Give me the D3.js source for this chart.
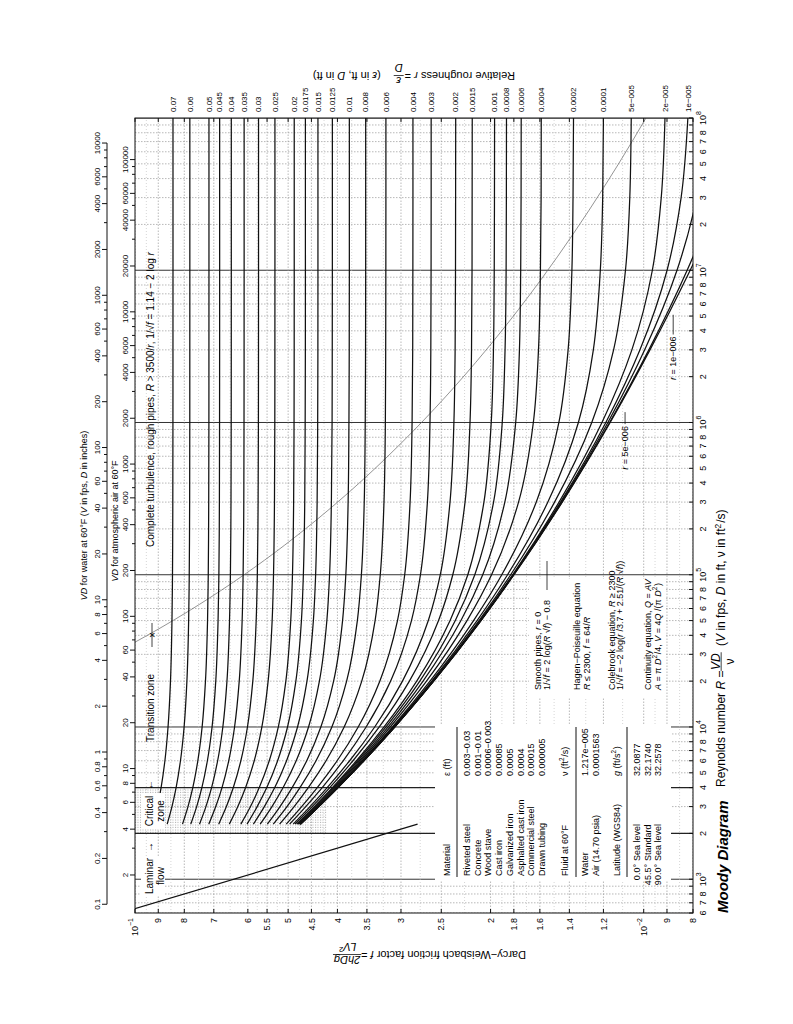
<!DOCTYPE html>
<html>
<head>
<meta charset="utf-8">
<title>Moody Diagram</title>
<script src="https://cdn.jsdelivr.net/npm/d3@7"></script>
<style>
  body { margin: 0; background: #fff; }
  svg { display: block; font-family: "Liberation Sans", Arial, Helvetica, sans-serif; }
</style>
</head>
<body>
<svg id="moody" width="793" height="1024"></svg>
<script>
const reynolds = [2300, 3000, 4000, 6000, 1e4, 2e4, 5e4, 1e5, 3e5, 1e6, 3e6, 1e7, 3e7, 1e8];

// relative roughness of each curve, 0 = smooth pipe
const roughness = [0.07, 0.06, 0.05, 0.045, 0.04, 0.035, 0.03, 0.025, 0.02, 0.0175, 0.015, 0.0125,
  0.01, 0.008, 0.006, 0.004, 0.003, 0.002, 0.0015, 0.001, 0.0008, 0.0006, 0.0004, 0.0002, 0.0001,
  5e-5, 2e-5, 1e-5, 5e-6, 1e-6, 0];
const roughnessLabels = ["0.07", "0.06", "0.05", "0.045", "0.04", "0.035", "0.03", "0.025", "0.02",
  "0.0175", "0.015", "0.0125", "0.01", "0.008", "0.006", "0.004", "0.003", "0.002", "0.0015", "0.001",
  "0.0008", "0.0006", "0.0004", "0.0002", "0.0001", "5e\u2212005", "2e\u2212005", "1e\u2212005", "", "", ""];

// friction factor, one row per roughness, one column per reynolds value
const friction = [
  [0.0921, 0.09034, 0.08886, 0.08734, 0.08611, 0.08516, 0.08459, 0.08439, 0.08427, 0.08422, 0.08421, 0.0842, 0.0842, 0.0842],
  [0.08645, 0.08459, 0.08302, 0.0814, 0.08007, 0.07906, 0.07844, 0.07823, 0.07809, 0.07804, 0.07803, 0.07802, 0.07802, 0.07802],
  [0.08065, 0.07867, 0.07698, 0.07525, 0.0738, 0.07269, 0.07201, 0.07178, 0.07163, 0.07157, 0.07156, 0.07155, 0.07155, 0.07155],
  [0.0777, 0.07564, 0.07388, 0.07206, 0.07055, 0.06938, 0.06866, 0.06841, 0.06825, 0.0682, 0.06818, 0.06817, 0.06817, 0.06817],
  [0.07468, 0.07254, 0.0707, 0.06879, 0.06719, 0.06595, 0.06519, 0.06493, 0.06476, 0.0647, 0.06468, 0.06467, 0.06467, 0.06467],
  [0.07159, 0.06938, 0.06744, 0.06542, 0.06372, 0.06239, 0.06157, 0.0613, 0.06111, 0.06105, 0.06103, 0.06102, 0.06102, 0.06102],
  [0.06846, 0.06612, 0.06408, 0.06193, 0.06011, 0.05867, 0.05778, 0.05748, 0.05728, 0.0572, 0.05718, 0.05717, 0.05717, 0.05717],
  [0.06525, 0.06278, 0.06061, 0.05829, 0.05631, 0.05474, 0.05375, 0.05342, 0.05319, 0.05311, 0.05309, 0.05308, 0.05308, 0.05308],
  [0.06193, 0.05928, 0.05698, 0.05446, 0.05227, 0.05052, 0.04941, 0.04903, 0.04877, 0.04868, 0.04865, 0.04864, 0.04864, 0.04864],
  [0.06022, 0.05752, 0.05507, 0.05244, 0.05014, 0.04828, 0.04708, 0.04667, 0.04638, 0.04629, 0.04625, 0.04624, 0.04624, 0.04624],
  [0.05852, 0.05568, 0.05312, 0.05036, 0.04792, 0.04591, 0.0446, 0.04415, 0.04385, 0.04374, 0.0437, 0.04369, 0.04369, 0.04369],
  [0.05674, 0.05379, 0.05114, 0.04821, 0.04559, 0.0434, 0.04196, 0.04145, 0.04111, 0.04098, 0.04095, 0.04093, 0.04093, 0.04093],
  [0.05493, 0.05187, 0.0491, 0.04596, 0.04312, 0.0407, 0.03908, 0.03851, 0.03811, 0.03797, 0.03792, 0.0379, 0.0379, 0.0379],
  [0.05348, 0.05026, 0.04739, 0.04407, 0.04102, 0.03837, 0.03655, 0.03589, 0.03543, 0.03527, 0.03522, 0.0352, 0.0352, 0.0352],
  [0.05197, 0.04866, 0.04564, 0.04211, 0.0388, 0.03583, 0.03373, 0.03295, 0.0324, 0.0322, 0.03215, 0.03213, 0.03212, 0.03212],
  [0.05043, 0.04703, 0.04382, 0.04005, 0.03641, 0.03302, 0.03048, 0.0295, 0.02879, 0.02853, 0.02845, 0.02843, 0.02842, 0.02842],
  [0.04966, 0.04617, 0.04285, 0.03897, 0.03513, 0.03145, 0.02861, 0.02747, 0.02662, 0.02631, 0.02621, 0.02618, 0.02617, 0.02617],
  [0.04887, 0.04529, 0.0419, 0.03785, 0.03379, 0.0298, 0.02651, 0.02511, 0.02403, 0.02361, 0.02348, 0.02344, 0.02343, 0.02342],
  [0.04848, 0.04484, 0.04141, 0.03728, 0.0331, 0.02888, 0.02531, 0.02373, 0.02245, 0.02195, 0.0218, 0.02175, 0.02174, 0.02173],
  [0.04812, 0.04442, 0.04093, 0.0367, 0.03239, 0.02794, 0.02402, 0.02217, 0.02061, 0.01994, 0.01974, 0.01967, 0.01965, 0.01964],
  [0.04793, 0.04425, 0.04072, 0.03647, 0.0321, 0.02755, 0.02346, 0.02148, 0.01973, 0.01897, 0.01873, 0.01864, 0.01862, 0.01861],
  [0.04778, 0.04404, 0.04052, 0.03621, 0.03179, 0.02715, 0.02287, 0.02072, 0.01875, 0.01785, 0.01755, 0.01745, 0.01742, 0.01741],
  [0.04759, 0.04387, 0.04031, 0.03598, 0.0315, 0.02673, 0.02225, 0.01991, 0.01762, 0.01648, 0.0161, 0.01596, 0.01591, 0.0159],
  [0.04744, 0.04369, 0.0401, 0.03575, 0.03119, 0.02631, 0.0216, 0.01901, 0.01626, 0.01468, 0.01408, 0.01384, 0.01377, 0.01374],
  [0.04734, 0.04362, 0.04001, 0.03563, 0.03105, 0.0261, 0.02126, 0.01852, 0.01543, 0.01344, 0.01256, 0.01217, 0.01204, 0.012],
  [0.04732, 0.04356, 0.03995, 0.03556, 0.03096, 0.02599, 0.02107, 0.01826, 0.01497, 0.01265, 0.01146, 0.01086, 0.01065, 0.01058],
  [0.0473, 0.04353, 0.03993, 0.03553, 0.03091, 0.02593, 0.02096, 0.0181, 0.01467, 0.01208, 0.01055, 0.009616, 0.009237, 0.009082],
  [0.04729, 0.04352, 0.03992, 0.03551, 0.03089, 0.02591, 0.02093, 0.01805, 0.01457, 0.01187, 0.01017, 0.008996, 0.008442, 0.008188],
  [0.04728, 0.04352, 0.03991, 0.0355, 0.03088, 0.0259, 0.02091, 0.01802, 0.01452, 0.01176, 0.009955, 0.008601, 0.007865, 0.00747],
  [0.04728, 0.04352, 0.03991, 0.0355, 0.03088, 0.02588, 0.02089, 0.018, 0.01447, 0.01167, 0.00977, 0.008215, 0.007184, 0.00644],
  [0.04728, 0.04352, 0.03991, 0.0355, 0.03088, 0.02588, 0.02089, 0.01799, 0.01446, 0.01164, 0.009721, 0.008103, 0.006948, 0.00594]
];

// laminar flow line f = 64/R
const laminarRe = [600, 2300];
const laminarF = [0.1067, 0.02783];

// start of complete turbulence, R = 3500/r
const boundaryRe = [36060, 41180, 50000, 58330, 70000, 87500, 1.4e5, 1.75e5, 2.333e5, 2.8e5, 3.5e5,
  5.833e5, 8.75e5, 1.75e6, 3.5e6, 8.75e6, 1.75e7, 3.5e7, 7e7, 1e8];
const boundaryF = [0.1, 0.09309, 0.0842, 0.07802, 0.07155, 0.06467, 0.05308, 0.04864, 0.04369, 0.04093, 0.0379,
  0.03212, 0.02842, 0.02342, 0.01964, 0.01589, 0.01373, 0.01198, 0.01054, 0.0099];

// friction factor axis
const fTicks = [0.1, 0.09, 0.08, 0.07, 0.06, 0.055, 0.05, 0.045, 0.04, 0.035, 0.03, 0.025, 0.02,
  0.018, 0.016, 0.014, 0.012, 0.01, 0.009, 0.008];
const fTickLabels = ["10|\u22121", "9", "8", "7", "6", "5.5", "5", "4.5", "4", "3.5", "3", "2.5", "2",
  "1.8", "1.6", "1.4", "1.2", "10|\u22122", "9", "8"];
const fMinorGrid = [0.095, 0.085, 0.075, 0.065, 0.0575, 0.0525, 0.0475, 0.0425, 0.0375, 0.0325, 0.0275,
  0.0225, 0.019, 0.017, 0.015, 0.013, 0.011, 0.0095, 0.0085];

// VD scales on top of the chart
const waterVD = [0.1, 0.2, 0.4, 0.6, 0.8, 1, 2, 4, 6, 8, 10, 20, 40, 60, 100, 200, 400, 600, 1000, 2000, 4000, 6000, 10000];
const airVD = [2, 4, 6, 8, 10, 20, 40, 60, 100, 200, 400, 600, 1000, 2000, 4000, 6000, 10000, 20000, 40000, 60000, 100000];
const nuWater = 1.217e-5, nuAir = 1.563e-4;   // ft^2/s, D in inches

// table
const materials = ["Riveted steel", "Concrete", "Wood stave", "Cast iron", "Galvanized iron",
  "Asphalted cast iron", "Commercial steel", "Drawn tubing"];
const materialEps = ["0.003\u22120.03", "0.001\u22120.01", "0.0006\u22120.003", "0.00085", "0.0005",
  "0.0004", "0.00015", "0.000005"];
const fluids = ["Water", "Air (14.70 psia)"];
const fluidNu = ["1.217e\u2212005", "0.0001563"];
const latitudes = ["0.0\u00b0", "45.5\u00b0", "90.0\u00b0"];
const latitudeSite = ["Sea level", "Standard", "Sea level"];
const gravity = ["32.0877", "32.1740", "32.2578"];

// inline curve labels
const inlineText = ["5e\u2212006", "1e\u2212006"];
const inlineRe = [4.9e5, 1.9e6];
const inlineF = [0.01088, 0.00875];
const inlineLeaderRe = [1.17e6, 5.1e6];

// ---------------------------------------------------------------
const W = 795, H = 558;
const svg = d3.select('#moody');

// chart drawn landscape, then turned onto the portrait page
const g = svg.append('g').attr('transform', 'translate(135,913) rotate(-90)');

const x = d3.scaleLog().domain([600, 1e8]).range([0, W]);
const y = d3.scaleLog().domain([0.1, 0.008]).range([0, H]);

const defs = svg.append('defs');
defs.append('clipPath').attr('id', 'plotclip')
  .append('rect').attr('width', W).attr('height', H);
const pat = defs.append('pattern').attr('id', 'stipple')
  .attr('patternUnits', 'userSpaceOnUse').attr('width', 2.5).attr('height', 2.5);
pat.append('rect').attr('width', 1).attr('height', 1).attr('fill', '#999');

const plot = g.append('g').attr('clip-path', 'url(#plotclip)');

const isDecade = d => Math.abs(Math.log10(d) - Math.round(Math.log10(d))) < 1e-6;

// critical zone
plot.append('rect')
  .attr('x', x(2000)).attr('width', x(4000) - x(2000))
  .attr('y', 0).attr('height', y(0.042))
  .attr('fill', 'url(#stipple)').attr('opacity', 0.8);

// grid
plot.append('g').selectAll('line').data(x.ticks()).join('line')
  .attr('x1', d => x(d)).attr('x2', d => x(d)).attr('y1', 0).attr('y2', H)
  .attr('stroke', d => isDecade(d) ? '#333' : '#999')
  .attr('stroke-width', d => isDecade(d) ? 1 : 0.7)
  .attr('stroke-dasharray', d => isDecade(d) ? null : '1.5,1.5');
plot.append('g').selectAll('line').data(fMinorGrid).join('line')
  .attr('x1', 0).attr('x2', W).attr('y1', d => y(d)).attr('y2', d => y(d))
  .attr('stroke', '#bbb').attr('stroke-width', 0.6).attr('stroke-dasharray', '1,2');
plot.append('g').selectAll('line').data(fTicks).join('line')
  .attr('x1', 0).attr('x2', W).attr('y1', d => y(d)).attr('y2', d => y(d))
  .attr('stroke', '#999').attr('stroke-width', 0.7).attr('stroke-dasharray', '1.5,1.5');
plot.append('g').selectAll('line').data([2000, 4000]).join('line')
  .attr('x1', d => x(d)).attr('x2', d => x(d)).attr('y1', 0).attr('y2', H)
  .attr('stroke', '#222').attr('stroke-width', 1.2);

// white boxes behind the notes
plot.append('rect').attr('x', 32).attr('y', 300).attr('width', 156).attr('height', 236).attr('fill', '#fff');
plot.append('rect').attr('x', 216).attr('y', 394).attr('width', 118).attr('height', 137).attr('fill', '#fff');

// boundary of complete turbulence
const line = d3.line().x(d => x(d[0])).y(d => y(d[1])).curve(d3.curveMonotoneX);
plot.append('path')
  .attr('d', line(boundaryRe.map((r, i) => [r, boundaryF[i]])))
  .attr('fill', 'none').attr('stroke', '#666').attr('stroke-width', 0.7);

// laminar line
plot.append('path')
  .attr('d', line(laminarRe.map((r, i) => [r, laminarF[i]])))
  .attr('fill', 'none').attr('stroke', '#111').attr('stroke-width', 1.2);

// Colebrook curves
plot.append('g').selectAll('path').data(friction).join('path')
  .attr('d', row => line(reynolds.map((r, j) => [r, row[j]])))
  .attr('fill', 'none').attr('stroke', '#111').attr('stroke-width', 1.25);

// frame
g.append('rect').attr('width', W).attr('height', H)
  .attr('fill', 'none').attr('stroke', '#111').attr('stroke-width', 1);

// Reynolds ticks (bottom of landscape chart)
const reTicks = x.ticks();
g.append('g').selectAll('line').data(reTicks).join('line')
  .attr('x1', d => x(d)).attr('x2', d => x(d)).attr('y1', H).attr('y2', H - 4)
  .attr('stroke', '#111');
const reLab = g.append('g').attr('font-size', 9).attr('text-anchor', 'middle');
reTicks.forEach(d => {
  const m = Math.round(d / Math.pow(10, Math.floor(Math.log10(d) + 1e-9)));
  if (m === 9) return;
  const t = reLab.append('text').attr('x', x(d)).attr('y', H + 13);
  if (isDecade(d)) {
    t.text('10').append('tspan').attr('dy', -5).attr('font-size', 7)
      .text(Math.round(Math.log10(d)));
  } else {
    t.text(m);
  }
});

// friction factor ticks (left of landscape chart)
g.append('g').selectAll('line').data(fTicks).join('line')
  .attr('x1', 0).attr('x2', 4).attr('y1', d => y(d)).attr('y2', d => y(d))
  .attr('stroke', '#111');
g.append('g').selectAll('line').data(fTicks).join('line')
  .attr('x1', W).attr('x2', W - 4).attr('y1', d => y(d)).attr('y2', d => y(d))
  .attr('stroke', '#111');
const fLab = g.append('g').attr('font-size', 9).attr('text-anchor', 'end');
fTicks.forEach((d, i) => {
  const parts = fTickLabels[i].split('|');
  const t = fLab.append('text').attr('x', -5).attr('y', y(d)).attr('dy', '0.35em');
  if (parts.length > 1) {
    t.text(parts[0]).append('tspan').attr('dy', -5).attr('font-size', 7).text(parts[1]);
  } else {
    t.text(parts[0]);
  }
});

// VD axes
const waterY = -28;
const waterMinor = d3.scaleLog().domain([0.1, 10000]).ticks();
g.append('line').attr('x1', x(0.1 / (12 * nuWater))).attr('x2', x(10000 / (12 * nuWater)))
  .attr('y1', waterY).attr('y2', waterY).attr('stroke', '#111');
g.append('g').selectAll('line').data(waterMinor).join('line')
  .attr('x1', d => x(d / (12 * nuWater))).attr('x2', d => x(d / (12 * nuWater)))
  .attr('y1', waterY).attr('y2', d => waterVD.includes(d) ? waterY - 5 : waterY - 3)
  .attr('stroke', '#111');
g.append('g').attr('font-size', 8).attr('text-anchor', 'middle')
  .selectAll('text').data(waterVD).join('text')
  .attr('x', d => x(d / (12 * nuWater))).attr('y', waterY - 7)
  .text(d => d);

const airMinor = d3.scaleLog().domain([2, 100000]).ticks().filter(d => d / (12 * nuAir) >= 600);
g.append('g').selectAll('line').data(airMinor).join('line')
  .attr('x1', d => x(d / (12 * nuAir))).attr('x2', d => x(d / (12 * nuAir)))
  .attr('y1', 0).attr('y2', d => airVD.includes(d) ? -5 : -3)
  .attr('stroke', '#111');
g.append('g').attr('font-size', 8).attr('text-anchor', 'middle')
  .selectAll('text').data(airVD).join('text')
  .attr('x', d => x(d / (12 * nuAir))).attr('y', -7)
  .text(d => d);

function rich(parent, xx, yy, parts, size) {
  const t = parent.append('text').attr('x', xx).attr('y', yy).attr('font-size', size);
  parts.forEach(p => {
    if (typeof p === 'string') t.append('tspan').text(p);
    else if (p.i) t.append('tspan').attr('font-style', 'italic').text(p.i);
    else if (p.sup) t.append('tspan').attr('dy', -4).attr('font-size', size * 0.7).text(p.sup)
      .clone().attr('dy', 4).attr('font-size', size).text('\u200a');
  });
  return t;
}

rich(g, 0, waterY - 20, [{i: 'VD'}, ' for water at 60\u00b0F (', {i: 'V'}, ' in fps, ', {i: 'D'}, ' in inches)'], 9)
  .attr('x', W / 2).attr('text-anchor', 'middle');
rich(g, 0, waterY + 11, [{i: 'VD'}, ' for atmospheric air at 60\u00b0F'], 9)
  .attr('x', 392).attr('text-anchor', 'middle');

// relative roughness labels (right of landscape chart)
g.append('g').attr('font-size', 8)
  .selectAll('text').data(friction.filter((row, i) => roughnessLabels[i])).join('text')
  .attr('x', W + 6).attr('y', row => y(row[row.length - 1])).attr('dy', '0.35em')
  .text((row, i) => roughnessLabels[i]);

// inline labels with leaders
inlineText.forEach((s, i) => {
  const t = rich(g, x(inlineRe[i]), y(inlineF[i]), [{i: 'r'}, ' = ' + s], 9).attr('dy', '0.35em');
  const len = t.node().getComputedTextLength();
  g.append('line').attr('x1', x(inlineRe[i]) + len + 2).attr('x2', x(inlineLeaderRe[i]))
    .attr('y1', y(inlineF[i])).attr('y2', y(inlineF[i])).attr('stroke', '#111').attr('stroke-width', 0.8);
});

// zone labels
const zl = g.append('g').attr('font-size', 10);
zl.append('rect').attr('x', 18).attr('y', 6).attr('width', 38).attr('height', 24).attr('fill', '#fff');
zl.append('rect').attr('x', 84).attr('y', 6).attr('width', 36).attr('height', 24).attr('fill', '#fff');
zl.append('text').attr('x', 37).attr('y', 18).attr('text-anchor', 'middle').text('Laminar');
zl.append('text').attr('x', 37).attr('y', 29).attr('text-anchor', 'middle').text('flow');
zl.append('text').attr('x', 102).attr('y', 18).attr('text-anchor', 'middle').text('Critical');
zl.append('text').attr('x', 102).attr('y', 29).attr('text-anchor', 'middle').text('zone');
zl.append('text').attr('x', 61).attr('y', 18).text('\u2192');
zl.append('text').attr('x', 123).attr('y', 18).text('\u2190');
zl.append('text').attr('x', 171).attr('y', 19).text('Transition zone');
g.append('line').attr('x1', 266).attr('x2', 290).attr('y1', 17).attr('y2', 17).attr('stroke', '#444');
g.append('text').attr('x', 278).attr('y', 20.5).attr('font-size', 10).attr('text-anchor', 'middle').text('\u00d7');
rich(g, 366, 19, ['Complete turbulence, rough pipes, ', {i: 'R'}, ' > 3500/', {i: 'r'}, ',  1/\u221a',
  {i: 'f'}, ' = 1.14 \u2212 2 log ', {i: 'r'}], 10);

// equations
const eq = [
  [['Smooth pipes, ', {i: 'r'}, ' = 0'], 406],
  [['1/\u221a', {i: 'f'}, ' = 2 log(', {i: 'R'}, ' \u221a', {i: 'f'}, ') \u2212 0.8'], 415],
  [['Hagen\u2212Poiseuille equation'], 445],
  [[{i: 'R'}, ' \u2264 2300,  ', {i: 'f'}, ' = 64/', {i: 'R'}], 455],
  [['Colebrook equation, ', {i: 'R'}, ' \u2265 2300'], 480],
  [['1/\u221a', {i: 'f'}, ' = \u22122 log(', {i: 'r'}, ' /3.7 + 2.51/(', {i: 'R'}, ' \u221a', {i: 'f'}, '))'], 488],
  [['Continuity equation,  ', {i: 'Q'}, ' = ', {i: 'AV'}], 516],
  [[{i: 'A'}, ' = \u03c0 ', {i: 'D'}, {sup: '2'}, '/4,  ', {i: 'V'}, ' = 4', {i: 'Q'}, ' /(\u03c0 ', {i: 'D'}, {sup: '2'}, ')'], 526]
];
eq.forEach(([parts, yy]) => rich(g, 223, yy, parts, 9));
g.append('line').attr('x1', 323).attr('x2', 352).attr('y1', 412).attr('y2', 412)
  .attr('stroke', '#111').attr('stroke-width', 0.8);

// table
const tb = g.append('g');
const col1 = 37, col2 = 137, step = 10.7;
rich(tb, col1, 315, ['Material'], 9);
rich(tb, col2, 315, ['\u03b5 (ft)'], 9);
tb.append('line').attr('x1', col1 - 1).attr('x2', 186).attr('y1', 322).attr('y2', 322).attr('stroke', '#111');
materials.forEach((m, i) => {
  rich(tb, col1, 335 + i * step, [m], 9);
  rich(tb, col2, 335 + i * step, [materialEps[i]], 9);
});
rich(tb, col1, 433, ['Fluid at 60\u00b0F'], 9);
rich(tb, col2, 433, ['\u03bd (ft', {sup: '2'}, '/s)'], 9);
tb.append('line').attr('x1', col1 - 1).attr('x2', 186).attr('y1', 441).attr('y2', 441).attr('stroke', '#111');
fluids.forEach((m, i) => {
  rich(tb, col1, 453 + i * step, [m], 9);
  rich(tb, col2, 453 + i * step, [fluidNu[i]], 9);
});
rich(tb, col1, 485, ['Latitude (WGS84)'], 9);
rich(tb, col2, 485, [{i: 'g'}, ' (ft/s', {sup: '2'}, ')'], 9);
tb.append('line').attr('x1', col1 - 1).attr('x2', 186).attr('y1', 492).attr('y2', 492).attr('stroke', '#111');
latitudes.forEach((m, i) => {
  rich(tb, col1 + 12, 505 + i * step, [m], 9).attr('text-anchor', 'end');
  rich(tb, col1 + 15, 505 + i * step, [latitudeSite[i]], 9);
  rich(tb, col2, 505 + i * step, [gravity[i]], 9);
});

// titles
g.append('text').attr('x', 0).attr('y', 593).attr('font-size', 15)
  .attr('font-weight', 'bold').attr('font-style', 'italic').text('Moody Diagram');

function fraction(parent, cx, base, num, den, size) {
  const a = rich(parent, cx, base - size * 0.45, num, size).attr('text-anchor', 'middle');
  const b = rich(parent, cx, base + size * 0.75, den, size).attr('text-anchor', 'middle');
  const w = Math.max(a.node().getComputedTextLength(), b.node().getComputedTextLength()) + 2;
  parent.append('line').attr('x1', cx - w / 2).attr('x2', cx + w / 2)
    .attr('y1', base - size * 0.32).attr('y2', base - size * 0.32).attr('stroke', '#111').attr('stroke-width', 0.8);
  return w;
}

// Reynolds number title
const reT = g.append('g');
let px = 126;
const reA = rich(reT, px, 590, ['Reynolds number  ', {i: 'R'}, '  =  '], 12);
px += reA.node().getComputedTextLength();
const fw = fraction(reT, px + 9, 590, [{i: 'VD'}], ['\u03bd'], 12);
px += fw + 6;
rich(reT, px, 590, ['  (', {i: 'V'}, ' in fps, ', {i: 'D'}, ' in ft, \u03bd in ft', {sup: '2'}, '/s)'], 12);

// friction factor title (upside down on the page)
const fT = g.append('g').attr('transform', `translate(-38,${H / 2}) rotate(-90)`);
const fA = rich(fT, -112, 0, ['Darcy\u2212Weisbach friction factor  ', {i: 'f'}, '  =  '], 11);
const fAl = fA.node().getComputedTextLength();
fraction(fT, -112 + fAl + 14, 0, [{i: '2hDg'}], [{i: 'LV'}, {sup: '2'}], 11);

// relative roughness title (upside down along the page top, centred on the chart)
const rr = svg.append('g');
const rA = rich(rr, 0, 0, ['Relative roughness  ', {i: 'r'}, '  =  '], 11);
const rAl = rA.node().getComputedTextLength();
const rw = fraction(rr, rAl + 6, 0, [{i: '\u03b5'}], [{i: 'D'}], 11);
const rC = rich(rr, rAl + rw + 14, 0, ['(', {i: '\u03b5'}, ' in ft, ', {i: 'D'}, ' in ft)'], 11);
const rTotal = rAl + rw + 14 + rC.node().getComputedTextLength();
rr.attr('transform', `translate(${135 + H / 2 + rTotal / 2},72) rotate(180)`);
</script>
</body>
</html>
